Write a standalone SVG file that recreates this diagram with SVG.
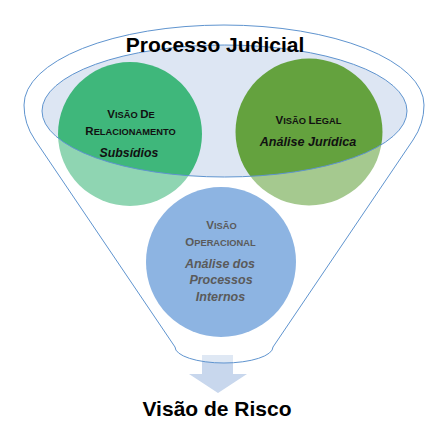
<svg xmlns="http://www.w3.org/2000/svg" width="446" height="442" viewBox="0 0 446 442">
<style>
.t{font-family:"Liberation Sans",Arial,sans-serif;font-weight:bold;text-anchor:middle}
.big{font-size:11.5px}
.sm{font-size:9.3px}
.it{font-style:italic;font-size:12.3px}
.dk{fill:#111}
.gr{fill:#5a5a5a}
.line{fill:none;stroke:#5f94cf;stroke-width:1}
.title{font-size:21px;fill:#000}
</style>
<defs>
<path id="funnel" d="M175 347 L35 140 Q24 124 24 105 A200 80 0 0 1 424 105 Q424 124 413 140 L273 347 A49 16 0 0 1 175 347 Z"/>
<ellipse id="mouth" cx="224.5" cy="111" rx="182.5" ry="66"/>
</defs>
<rect width="446" height="442" fill="#fff"/>
<g id="funnel-body">
<use href="#mouth" fill="#dde6f3"/>
</g>
<g id="node-relacionamento">
<circle cx="130" cy="134" r="72" fill="#3fb77b"/>
</g>
<g id="node-legal">
<circle cx="309" cy="132" r="73.5" fill="#64a23e"/>
</g>
<g id="connectors">
<polygon points="202,355 233,355 233,374 247,374 218,393 189,374 202,374" fill="#c8d7ed"/>
</g>
<path d="M175 347 L35 140 Q24 124 24 105 A200 80 0 0 1 424 105 Q424 124 413 140 L273 347 A49 16 0 0 1 175 347 Z M42 111 A182.5 66 0 0 0 407 111 A182.5 66 0 0 0 42 111 Z" fill="#fff" fill-opacity="0.42" fill-rule="evenodd"/>
<g id="node-operacional">
<circle cx="221" cy="262" r="75" fill="#8db4e2"/>
</g>
<g id="outlines">
<use href="#funnel" class="line"/>
<use href="#mouth" class="line"/>
</g>
<g id="labels">
<text class="t title" x="215" y="52">Processo Judicial</text>
<text class="t dk" x="131" y="118"><tspan class="big">V</tspan><tspan class="sm">ISÃO </tspan><tspan class="big">D</tspan><tspan class="sm">E</tspan></text>
<text class="t dk" x="130.5" y="134.5"><tspan class="big">R</tspan><tspan class="sm">ELACIONAMENTO</tspan></text>
<text class="t dk it" x="129" y="156.5">Subsídios</text>
<text class="t dk" x="308.5" y="123.5"><tspan class="big">V</tspan><tspan class="sm">ISÃO </tspan><tspan class="big">L</tspan><tspan class="sm">EGAL</tspan></text>
<text class="t dk it" x="308" y="146" style="font-size:12.6px">Análise Jurídica</text>
<text class="t gr" x="221.5" y="228.5"><tspan class="big">V</tspan><tspan class="sm">ISÃO</tspan></text>
<text class="t gr" x="220.5" y="246"><tspan class="big">O</tspan><tspan class="sm">PERACIONAL</tspan></text>
<text class="t gr it" x="220" y="267.5" style="font-size:12.5px">Análise dos</text>
<text class="t gr it" x="221" y="283.5" style="font-size:12.5px">Processos</text>
<text class="t gr it" x="220.5" y="300.5" style="font-size:12.5px">Internos</text>
<text class="t title" x="217" y="416">Visão de Risco</text>
</g>
</svg>
